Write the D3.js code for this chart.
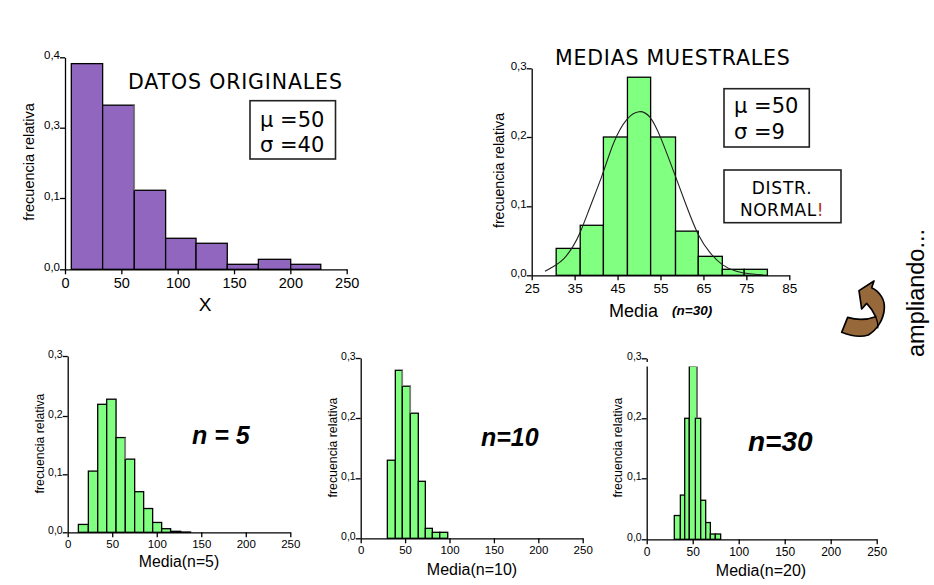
<!DOCTYPE html>
<html>
<head>
<meta charset="utf-8">
<script src="https://cdn.jsdelivr.net/npm/d3@7"></script>
<style>
	html, body { margin: 0; padding: 0; background: #fff; }
	svg { display: block; }
	text { fill: #000; font-family: "Liberation Sans", sans-serif; }
	.verdana { font-family: "DejaVu Sans", sans-serif; }
	.bolditalic { font-weight: bold; font-style: italic; }
</style>
</head>
<body>
<div id="chart"></div>
<script>
// bin edges and relative frequencies
var origEdges = [5.6, 33.4, 61.5, 89.3, 116.3, 144, 171.6, 200.3, 227];
var origFreq = [0.391, 0.332, 0.122, 0.0435, 0.0365, 0.007, 0.014, 0.007];

var meansEdges = [30.7, 36.3, 41.7, 47.3, 52.7, 58.5, 63.8, 69.4, 74.5, 79.9];
var meansFreq = [0.039, 0.0725, 0.2, 0.287, 0.2, 0.064, 0.0275, 0.0087, 0.0087];

// curve drawn over the sample means
var curveX = [28.1, 30.7, 32.4, 34.7, 36.3, 38.6, 41.7, 44, 47.1, 50.1, 52.6, 54.9, 58.8, 61.1, 63.8, 66.5, 69.4, 72.7, 75.8, 78.9];
var curveY = [0.0058, 0.015, 0.022, 0.0415, 0.061, 0.0995, 0.148, 0.194, 0.229, 0.24, 0.232, 0.203, 0.138, 0.0995, 0.056, 0.032, 0.0135, 0.0048, 0.002, 0.0005];

var n5Edges = [12, 23.2, 33.7, 43.8, 54.3, 64.7, 75.2, 85.3, 95.4, 105.5, 115.6, 126.9, 138];
var n5Freq = [0.0136, 0.1055, 0.2195, 0.228, 0.163, 0.126, 0.07, 0.041, 0.017, 0.0062, 0.0017, 0.0005];

var n10Edges = [30, 39, 46.9, 55.9, 64.9, 72.8, 80.7, 89, 98];
var n10Freq = [0.13, 0.2795, 0.253, 0.208, 0.095, 0.0166, 0.01, 0.01];

var n20Edges = [30, 36.6, 41.3, 46.3, 52.9, 58.7, 64.1, 69.2, 74.6, 80.4];
var n20Freq = [0.039, 0.0725, 0.2, 0.287, 0.2, 0.064, 0.0275, 0.0087, 0.0087];
var n20TallRight = 54.7; // the tall bar runs on behind the next one

var ticks250 = [0, 50, 100, 150, 200, 250];
var ticksMeans = [25, 35, 45, 55, 65, 75, 85];
var freqTicks = [0, 0.1, 0.2, 0.3];
var origFreqTicks = [0, 0.1, 0.3, 0.4];

var svg = d3.select("#chart").append("svg")
	.attr("width", 934)
	.attr("height", 585);

function commaFormat(d) {
	return d.toFixed(1).replace(".", ",");
}

function drawHist(o) {
	var x = d3.scaleLinear().domain(d3.extent(o.xTicks)).range(o.xRange);
	var y = d3.scaleLinear().domain(o.yTicks).range(o.yRange);
	var g = svg.append("g");

	var bars = o.freq.map(function(f, i) {
		var right = (o.wide && o.wide.index == i) ? o.wide.right : o.edges[i + 1];
		return { x0: o.edges[i], x1: right, f: f, next: o.freq[i + 1] || 0 };
	});
	g.selectAll("rect.bar").data(bars).enter().append("rect")
		.attr("class", "bar")
		.attr("x", function(d) { return x(d.x0); })
		.attr("y", function(d) { return y(d.f); })
		.attr("width", function(d) { return x(d.x1) - x(d.x0); })
		.attr("height", function(d) { return y(0) - y(d.f); })
		.attr("fill", o.fill)
		.attr("stroke", "#000")
		.attr("stroke-width", 1.3);

	// some right edges came out grey in the original
	g.selectAll("line.grey").data(bars.filter(function(d, i) { return (o.greyRight || []).indexOf(i) >= 0; }))
		.enter().append("line")
		.attr("class", "grey")
		.attr("x1", function(d) { return x(d.x1); })
		.attr("x2", function(d) { return x(d.x1); })
		.attr("y1", function(d) { return y(d.f); })
		.attr("y2", function(d) { return y(d.next); })
		.attr("stroke", "#808080")
		.attr("stroke-width", 1.5);

	var xAxis = g.append("g")
		.attr("transform", "translate(0," + y(0) + ")")
		.call(d3.axisBottom(x).tickValues(o.xTicks).tickSize(5).tickSizeOuter(0).tickPadding(3));
	var yAxis = g.append("g")
		.attr("transform", "translate(" + x(o.xTicks[0]) + ",0)")
		.call(d3.axisLeft(y).tickValues(o.yTicks).tickFormat(commaFormat).tickSize(5).tickSizeOuter(0).tickPadding(0));
	xAxis.selectAll("text").attr("font-size", o.xFont);
	yAxis.selectAll("text").attr("font-size", o.yFont).attr("dy", "0.1em");
	g.selectAll(".domain, .tick line").attr("stroke", "#000").attr("stroke-width", 1.3);

	g.append("text")
		.attr("transform", "translate(" + o.yLabelX + "," + o.yLabelY + ") rotate(-90)")
		.attr("text-anchor", "middle")
		.attr("font-size", o.yLabelFont)
		.text("frecuencia relativa");

	return { x: x, y: y, g: g };
}

function label(txt, px, py, size, cls, anchor) {
	return svg.append("text")
		.attr("x", px)
		.attr("y", py)
		.attr("font-size", size)
		.attr("class", cls || null)
		.attr("text-anchor", anchor || "start")
		.text(txt);
}

function box(bx, by, bw, bh) {
	svg.append("rect")
		.attr("x", bx).attr("y", by)
		.attr("width", bw).attr("height", bh)
		.attr("fill", "#fff")
		.attr("stroke", "#222")
		.attr("stroke-width", 1.6);
}

// datos originales
drawHist({
	edges: origEdges, freq: origFreq, fill: "#9166bf", greyRight: [1],
	xTicks: ticks250, xRange: [65, 346.7], xFont: 14.5,
	yTicks: origFreqTicks, yRange: [269.3, 198, 127.7, 57.3], yFont: 11.5,
	yLabelX: 34, yLabelY: 162, yLabelFont: 14.5
});
label("X", 205, 311, 19, null, "middle");
label("DATOS ORIGINALES", 128, 89, 20.5, "verdana").attr("letter-spacing", 0.85);
box(250, 100.7, 85.5, 58.3);
label("μ =50", 260, 127, 21, "verdana");
label("σ =40", 260, 152, 21, "verdana");

// medias muestrales
var means = drawHist({
	edges: meansEdges, freq: meansFreq, fill: "#80ff80",
	xTicks: ticksMeans, xRange: [531.7, 789.3], xFont: 13.5,
	yTicks: freqTicks, yRange: [275.3, 206.3, 137, 68.3], yFont: 11.5,
	yLabelX: 504, yLabelY: 170.5, yLabelFont: 14.2
});
var curve = d3.line()
	.x(function(d) { return means.x(d[0]); })
	.y(function(d) { return means.y(d[1]); })
	.curve(d3.curveBasis);
means.g.append("path")
	.datum(d3.zip(curveX, curveY))
	.attr("d", curve)
	.attr("fill", "none")
	.attr("stroke", "#222")
	.attr("stroke-width", 1.1);
label("MEDIAS MUESTRALES", 555, 65, 20.5, "verdana").attr("letter-spacing", 0.8);
label("Media", 609, 317, 18);
label("(n=30)", 672, 315, 13.5, "bolditalic");
box(724, 88.7, 85.3, 58.3);
label("μ =50", 734, 113, 21, "verdana");
label("σ =9", 734, 139, 21, "verdana");
box(724, 170, 117, 52.7);
label("DISTR.", 782, 194, 17, "verdana", "middle").attr("letter-spacing", 0.8);
var normal = label("NORMAL", 740, 216, 17, "verdana").attr("letter-spacing", 0.5);
normal.append("tspan").style("fill", "#b03020").text("!");

// n = 5
drawHist({
	edges: n5Edges, freq: n5Freq, fill: "#80ff80", greyRight: [4],
	xTicks: ticks250, xRange: [67.7, 290.3], xFont: 11.5,
	yTicks: freqTicks, yRange: [532.3, 474.3, 416, 356], yFont: 10.5,
	yLabelX: 44, yLabelY: 443.5, yLabelFont: 12.3
});
label("Media(n=5)", 179, 567, 15.8, null, "middle");
label("n = 5", 192, 444, 25, "bolditalic");

// n = 10
drawHist({
	edges: n10Edges, freq: n10Freq, fill: "#80ff80", greyRight: [1, 2],
	xTicks: ticks250, xRange: [360.7, 582.7], xFont: 11.5,
	yTicks: freqTicks, yRange: [538.3, 478.3, 418, 358], yFont: 10.5,
	yLabelX: 337, yLabelY: 447.5, yLabelFont: 12.3
});
label("Media(n=10)", 472, 575, 16, null, "middle");
label("n=10", 481, 446, 25, "bolditalic");

// n = 20
drawHist({
	edges: n20Edges, freq: n20Freq, fill: "#80ff80",
	wide: { index: 3, right: n20TallRight }, greyRight: [3],
	xTicks: ticks250, xRange: [646.7, 876.7], xFont: 12,
	yTicks: freqTicks, yRange: [539.3, 478.3, 418.3, 358.3], yFont: 10.5,
	yLabelX: 622, yLabelY: 447.5, yLabelFont: 12.3
});
// the top of this panel is cut off in the original
svg.append("rect")
	.attr("x", 646).attr("y", 362)
	.attr("width", 60).attr("height", 4.5)
	.attr("fill", "#fff");
label("Media(n=20)", 761, 576, 16, null, "middle");
label("n=30", 748, 451, 28, "bolditalic");

// flecha
var arrow = svg.append("g").attr("transform", "translate(835,275) scale(0.3333)");
arrow.append("path")
	.attr("d", "M38,127 C65,135 95,135 122,125 C115,110 105,95 95,85 L80,102 L72,47 L117,18 L110,38 C135,50 150,75 148,100 C146,135 125,165 100,180 C75,188 45,182 20,172 Z")
	.attr("fill", "#96683a")
	.attr("stroke", "#000")
	.attr("stroke-width", 5)
	.attr("stroke-linejoin", "round");
arrow.append("path")
	.attr("d", "M122,125 C127,137 130,148 128,160")
	.attr("fill", "none")
	.attr("stroke", "#000")
	.attr("stroke-width", 4);

svg.append("text")
	.attr("transform", "translate(924,357) rotate(-90)")
	.attr("font-size", 23.5)
	.text("ampliando...");
</script>
</body>
</html>
